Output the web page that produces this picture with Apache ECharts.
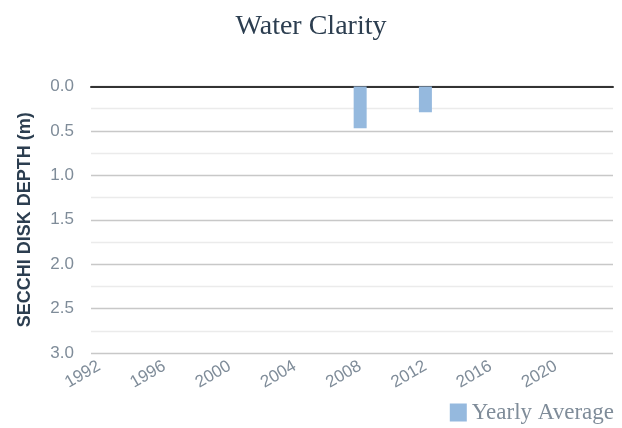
<!DOCTYPE html>
<html><head><meta charset="utf-8">
<script src="https://cdn.jsdelivr.net/npm/echarts@6/dist/echarts.min.js"></script>
<style>html,body{margin:0;padding:0;background:#fff}#c{width:622px;height:428px}</style>
</head><body><div id="c"></div>
<script>
const years = [];
for (let y = 1992; y <= 2023; y++) years.push(String(y));
const yearlyAverage = {"2008": 0.47, "2012": 0.29};
const seriesValues = years.map(y => (y in yearlyAverage ? yearlyAverage[y] : null));
const yTicks = [0, 0.5, 1.0, 1.5, 2.0, 2.5, 3.0];

const chart = echarts.init(document.getElementById('c'));
chart.setOption({
  animation: false,
  title: {
    text: 'Water Clarity', left: 'center', top: 8,
    textStyle: {fontFamily: 'Liberation Serif', fontWeight: 'normal', fontSize: 28, color: '#2c3e50'}
  },
  legend: {
    right: 3, bottom: -1, itemWidth: 17, itemHeight: 18, icon: 'rect', itemGap: 8,
    textStyle: {fontFamily: 'Liberation Serif', fontSize: 23, color: '#7f8c99'},
    data: ['Yearly Average']
  },
  grid: {left: 91, right: 9, top: 86.5, bottom: 75},
  xAxis: [{
    type: 'category', data: years, position: 'bottom',
    axisLine: {show: false}, axisTick: {show: false},
    axisLabel: {interval: 3, rotate: 30, color: '#7f8c99', fontSize: 17, fontFamily: 'Liberation Sans', margin: 12}
  }, {
    type: 'category', data: years, position: 'top',
    axisLine: {show: true, lineStyle: {color: '#333', width: 2}},
    axisTick: {show: false}, axisLabel: {show: false}
  }],
  yAxis: {
    type: 'value', inverse: true, min: 0, max: 3, interval: 0.5,
    name: 'SECCHI DISK DEPTH (m)', nameLocation: 'middle', nameGap: 57,
    nameTextStyle: {fontFamily: 'Liberation Sans', fontWeight: 'bold', fontSize: 18, color: '#2c3e50'},
    axisLine: {show: false}, axisTick: {show: false},
    axisLabel: {color: '#7f8c99', fontSize: 17, fontFamily: 'Liberation Sans', margin: 17,
      formatter: v => v.toFixed(1)},
    splitLine: {lineStyle: {color: '#c8c8c8', width: 1.3}},
    minorTick: {show: false, splitNumber: 2},
    minorSplitLine: {show: true, lineStyle: {color: '#ebebeb', width: 1.3}}
  },
  series: [{
    name: 'Yearly Average', type: 'bar', data: seriesValues,
    barWidth: 13, itemStyle: {color: '#95b9de'}
  }]
});
</script></body></html>
